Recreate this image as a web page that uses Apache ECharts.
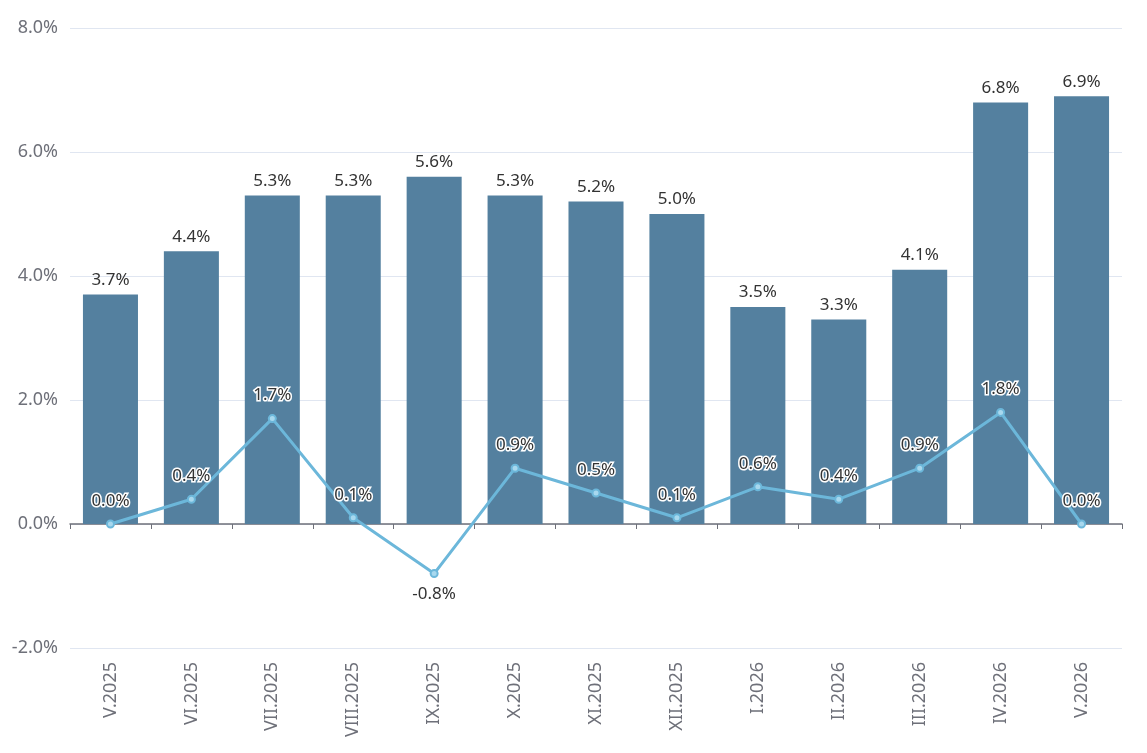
<!DOCTYPE html>
<html>
<head>
<meta charset="utf-8">
<script src="https://cdn.jsdelivr.net/npm/echarts@6/dist/echarts.min.js"></script>
<style>
    *{ padding: 0; margin: 0; }
    body{ background: #fff; }
    #chart{ width: 1147px; height: 753px; }
</style>
</head>
<body>
<div id="chart"></div>
<script type="text/javascript">
    // months
    var categories = ['V.2025','VI.2025','VII.2025','VIII.2025','IX.2025','X.2025','XI.2025','XII.2025','I.2026','II.2026','III.2026','IV.2026','V.2026'];
    // year over year, %
    var yoyValues = [3.7, 4.4, 5.3, 5.3, 5.6, 5.3, 5.2, 5.0, 3.5, 3.3, 4.1, 6.8, 6.9];
    // month over month, %
    var momValues = [0.0, 0.4, 1.7, 0.1, -0.8, 0.9, 0.5, 0.1, 0.6, 0.4, 0.9, 1.8, 0.0];

    var font = 'Noto Sans, sans-serif';
    var pct = function (v) { return v.toFixed(1) + '%'; };

    var momData = momValues.map(function (v) {
        if (v < 0) {
            return { value: v, label: { position: 'bottom', distance: 8, textBorderWidth: 0 } };
        }
        return v;
    });

    var myChart = echarts.init(document.getElementById('chart'));
    var option = {
        animation: false,
        grid: { left: 70, right: 25, top: 28, bottom: 105 },
        xAxis: [
            {
                type: 'category',
                data: categories,
                axisLine: { onZero: true, lineStyle: { color: '#6e7079', width: 1.5 } },
                axisTick: { show: true, length: 5, lineStyle: { color: '#6e7079' } },
                axisLabel: { show: false }
            },
            {
                type: 'category',
                data: categories,
                position: 'bottom',
                axisLine: { show: false, onZero: false },
                axisTick: { show: false },
                axisLabel: { rotate: 90, margin: 14, color: '#6e7079', fontSize: 18, fontFamily: font }
            }
        ],
        yAxis: {
            type: 'value',
            min: -2,
            max: 8,
            interval: 2,
            axisLine: { show: false },
            axisTick: { show: false },
            splitLine: { lineStyle: { color: '#e0e6f1' } },
            axisLabel: {
                color: '#6e7079', fontSize: 18, fontFamily: font, margin: 12,
                formatter: function (v) { return pct(v); }
            }
        },
        series: [
            {
                type: 'bar',
                data: yoyValues,
                barWidth: '68%',
                itemStyle: { color: '#54809f' },
                label: {
                    show: true, position: 'top', distance: 6,
                    color: '#333', fontSize: 17, fontFamily: font,
                    formatter: function (p) { return pct(p.value); }
                }
            },
            {
                type: 'line',
                data: momData,
                symbol: 'circle',
                symbolSize: 7,
                lineStyle: { color: '#6cb7da', width: 3 },
                itemStyle: { color: '#a8d8ee', borderColor: '#6cb7da', borderWidth: 2 },
                label: {
                    show: true, position: 'top', distance: 10,
                    color: '#333', fontSize: 17, fontFamily: font,
                    textBorderColor: '#fff', textBorderWidth: 3,
                    formatter: function (p) { return pct(p.value); }
                }
            }
        ]
    };
    myChart.setOption(option);
</script>
</body>
</html>
